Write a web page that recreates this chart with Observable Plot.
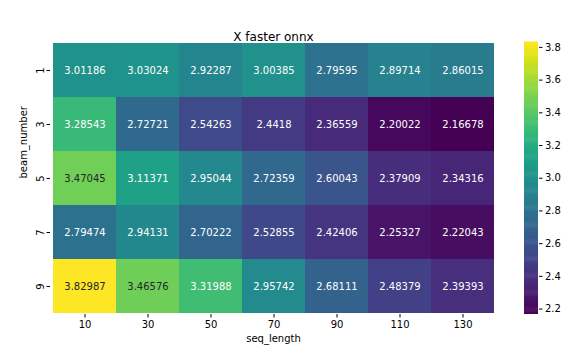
<!DOCTYPE html>
<html>
<head>
<meta charset="utf-8">
<script src="https://cdn.jsdelivr.net/npm/d3@7"></script>
<script src="https://cdn.jsdelivr.net/npm/@observablehq/plot@0.6"></script>
<style>
  body { margin: 0; background: white; }
  #wrap { position: relative; width: 587px; height: 357px; font-family: "DejaVu Sans", sans-serif; }
  #wrap svg { position: absolute; left: 0; top: 0; overflow: visible; }
</style>
</head>
<body>
<div id="wrap"></div>
<script>
const seqLengths = [10, 30, 50, 70, 90, 110, 130];
const beamNumbers = [1, 3, 5, 7, 9];
const values = [
  [3.01186, 3.03024, 2.92287, 3.00385, 2.79595, 2.89714, 2.86015],
  [3.28543, 2.72721, 2.54263, 2.4418, 2.36559, 2.20022, 2.16678],
  [3.47045, 3.11371, 2.95044, 2.72359, 2.60043, 2.37909, 2.34316],
  [2.79474, 2.94131, 2.70222, 2.52855, 2.42406, 2.25327, 2.22043],
  [3.82987, 3.46576, 3.31988, 2.95742, 2.68111, 2.48379, 2.39393]
];
const titleText = ["X faster onnx"];
const xLabel = ["seq_length"];
const yLabel = ["beam_number"];
const colorTicks = [2.2, 2.4, 2.6, 2.8, 3.0, 3.2, 3.4, 3.6, 3.8];

const data = [];
beamNumbers.forEach((b, i) => seqLengths.forEach((s, j) => data.push({beam: b, seq: s, value: values[i][j]})));
const vmin = d3.min(data, d => d.value), vmax = d3.max(data, d => d.value);
// annotation colour: dark on light (upper part of the viridis ramp), white elsewhere
const textColor = v => ((v - vmin) / (vmax - vmin)) > 0.75 ? "#262626" : "#ffffff";

const W = 587, H = 357;
const main = Plot.plot({
  width: W, height: H,
  marginLeft: 50, marginRight: 91, marginTop: 42, marginBottom: 43,
  style: {fontFamily: "DejaVu Sans, sans-serif", fontSize: "10px", color: "black", background: "transparent"},
  x: {type: "band", domain: seqLengths, padding: 0, label: null},
  y: {type: "band", domain: beamNumbers, padding: 0, label: null},
  color: {type: "linear", domain: [vmin, vmax], scheme: "viridis"},
  marks: [
    Plot.cell(data, {x: "seq", y: "beam", fill: "value", inset: 0}),
    Plot.text(data, {x: "seq", y: "beam", text: d => String(d.value),
      fill: d => textColor(d.value), fontSize: 10}),
    Plot.axisX({tickSize: 3.5, tickPadding: 3, label: null, fontSize: 10}),
    Plot.axisY({tickSize: 3.5, tickPadding: 3, tickRotate: -90, label: null, fontSize: 10}),
    Plot.text(titleText, {frameAnchor: "top", dy: -10, fontSize: 12, fill: "black"}),
    Plot.text(xLabel, {frameAnchor: "bottom", dy: 27, fontSize: 10, fill: "black"}),
    Plot.text(yLabel, {frameAnchor: "left", dx: -27, rotate: -90, fontSize: 10, fill: "black"})
  ]
});

const nSteps = 256;
const steps = d3.range(nSteps).map(i => ({
  y1: vmin + (vmax - vmin) * i / nSteps,
  y2: vmin + (vmax - vmin) * (i + 1) / nSteps
}));
const bar = Plot.plot({
  width: W, height: H,
  marginLeft: 524, marginRight: 49, marginTop: 42, marginBottom: 43,
  style: {fontFamily: "DejaVu Sans, sans-serif", fontSize: "10px", color: "black", background: "transparent"},
  x: {domain: [0, 1], axis: null},
  y: {domain: [vmin, vmax], label: null, axis: null},
  color: {type: "linear", domain: [vmin, vmax], scheme: "viridis"},
  marks: [
    Plot.rect(steps, {x1: 0, x2: 1, y1: "y1", y2: d => d.y2 + (vmax - vmin) / nSteps * 0.5, fill: d => (d.y1 + d.y2) / 2, inset: 0}),
    Plot.axisY({anchor: "right", ticks: colorTicks, tickFormat: d3.format(".1f"), tickSize: 3.5, tickPadding: 3, label: null, fontSize: 10})
  ]
});

const wrap = document.getElementById("wrap");
wrap.appendChild(main);
wrap.appendChild(bar);
</script>
</body>
</html>
